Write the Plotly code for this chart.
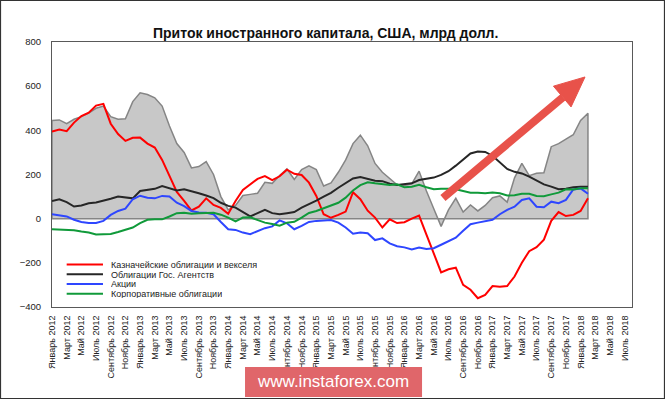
import plotly.graph_objects as go

# ---- data (Jan 2012 .. Feb 2018, bn USD) ----
tick_labels = [
    "Январь 2012", "Март 2012", "Май 2012", "Июль 2012", "Сентябрь 2012", "Ноябрь 2012",
    "Январь 2013", "Март 2013", "Май 2013", "Июль 2013", "Сентябрь 2013", "Ноябрь 2013",
    "Январь 2014", "Март 2014", "Май 2014", "Июль 2014", "Сентябрь 2014", "Ноябрь 2014",
    "Январь 2015", "Март 2015", "Май 2015", "Июль 2015", "Сентябрь 2015", "Ноябрь 2015",
    "Январь 2016", "Март 2016", "Май 2016", "Июль 2016", "Сентябрь 2016", "Ноябрь 2016",
    "Январь 2017", "Март 2017", "Май 2017", "Июль 2017", "Сентябрь 2017", "Ноябрь 2017",
    "Январь 2018", "Март 2018", "Май 2018", "Июль 2018",
]

treasury = [394, 404, 396, 435, 465, 480, 512, 520, 430, 383, 352, 366, 367, 340, 322, 266,
            194, 121, 81, 37, 54, 92, 62, 49, 22, 80, 130, 155, 180, 193, 175, 192,
            222, 203, 198, 163, 103, 20, 4, 17, 32, 120, 88, 36, 5, -40, -3, -20,
            -16, 0, 14, -72, -160, -243, -229, -222, -300, -322, -360, -345, -305, -308,
            -305, -262, -200, -147, -129, -95, -10, 30, 12, 17, 35, 92]

agency = [80, 88, 75, 55, 60, 70, 73, 80, 90, 100, 96, 92, 125, 130, 135, 148,
          138, 128, 133, 125, 115, 105, 93, 72, 58, 50, 30, 10, 25, 40, 25, 20,
          25, 30, 50, 65, 82, 100, 117, 140, 160, 182, 189, 180, 172, 170, 158, 153,
          155, 160, 175, 180, 186, 198, 215, 240, 268, 295, 304, 302, 285, 255,
          225, 212, 205, 190, 172, 155, 145, 133, 135, 142, 145, 145]

stocks = [20, 14, 10, -5, -15, -20, -20, -10, 17, 35, 45, 88, 104, 95, 92, 103,
          100, 72, 57, 35, 28, 27, 20, -15, -48, -51, -63, -70, -55, -43, -35, -8,
          -21, -48, -33, -15, -10, -8, -6, -18, -40, -68, -63, -66, -97, -89, -112, -125,
          -130, -140, -131, -137, -134, -118, -103, -86, -55, -25, -18, -12, -5, 20,
          40, 54, 85, 92, 54, 52, 77, 70, 85, 132, 137, 113]

corporate = [-48, -50, -52, -52, -58, -63, -72, -72, -69, -60, -50, -40, -20, -5, -3, -3,
             10, 25, 27, 22, 25, 27, 27, 18, 5, -12, 5, 6, -7, -18, -24, -32,
             -18, -14, 5, 26, 35, 48, 58, 72, 95, 128, 152, 165, 160, 156, 153, 156,
             142, 145, 153, 142, 133, 135, 136, 133, 124, 117, 117, 115, 118, 115,
             105, 106, 113, 113, 103, 102, 110, 118, 133, 132, 138, 138]

total = [445, 447, 430, 450, 462, 478, 500, 510, 462, 450, 452, 530, 570, 562, 547, 510,
         420, 340, 300, 230, 236, 258, 200, 100, 40, 60, 105, 110, 115, 165, 160, 195,
         225, 178, 222, 239, 222, 148, 162, 210, 266, 340, 378, 330, 250, 210, 183, 153,
         150, 158, 215, 125, 45, -35, 40, 92, 30, 62, 35, 60, 95, 103,
         75, 185, 250, 195, 206, 208, 326, 340, 360, 380, 445, 477]

series_names = ["Казначейские облигации и векселя", "Облигации Гос. Агентств",
                "Акции", "Корпоративные облигации"]
series_colors = ["#FF0000", "#262626", "#2E46FF", "#109A3A"]

n = len(total)
idx = list(range(n))
tick_pos = [2 * k for k in range(len(tick_labels))]

fig = go.Figure()

# grey total area (closed polygon down to zero)
fig.add_trace(go.Scatter(
    x=[0] + idx + [n - 1, 0], y=[0] + total + [0, 0],
    mode="lines", fill="toself", fillcolor="#C8C8C8",
    line=dict(color="#858585", width=1.5), hoverinfo="skip", showlegend=False))

for name, vals, col in zip(series_names, [treasury, agency, stocks, corporate], series_colors):
    fig.add_trace(go.Scatter(x=idx, y=vals, mode="lines", name=name,
                             line=dict(color=col, width=2), showlegend=False))

shapes = []
annotations = []

# title
annotations.append(dict(text="<b>Приток иностранного капитала, США, млрд долл.</b>",
                        xref="paper", yref="paper", x=0.4707, y=1.035,
                        xanchor="center", yanchor="middle", showarrow=False,
                        font=dict(family="Liberation Sans, Arial", size=14, color="#111")))

# manual legend
leg_y = [0.160, 0.1235, 0.0868, 0.050]
for name, col, yy in zip(series_names, series_colors, leg_y):
    shapes.append(dict(type="line", xref="paper", yref="paper", x0=0.0253, x1=0.0879,
                       y0=yy, y1=yy, line=dict(color=col, width=2)))
    annotations.append(dict(text=name, xref="paper", yref="paper", x=0.1005, y=yy,
                            xanchor="left", yanchor="middle", showarrow=False, height=9,
                            borderpad=0,
                            font=dict(family="Liberation Sans, Arial", size=9, color="#222")))

# red arrow (decoration)
arrow_col = "#E8524A"
shapes.append(dict(type="line", xref="x", yref="y", x0=53.25, y0=93.7, x1=69.6, y1=550,
                   line=dict(color=arrow_col, width=8), layer="above"))
shapes.append(dict(type="path", xref="x", yref="y",
                   path="M 72.6,641.6 L 70.7,506 L 68.3,600 Z",
                   fillcolor=arrow_col, line=dict(color=arrow_col, width=1), layer="above"))

# outer frame
shapes.append(dict(type="rect", xref="paper", yref="paper", x0=-0.0888, x1=1.056,
                   y0=-0.3453, y1=1.1566, line=dict(color="#333", width=1.2)))

# watermark
shapes.append(dict(type="rect", xref="paper", yref="paper", x0=0.3328, x1=0.638,
                   y0=-0.3396, y1=-0.2264, fillcolor="#E0666A", line=dict(width=0),
                   layer="above"))
annotations.append(dict(text="www.instaforex.com", xref="paper", yref="paper",
                        x=0.4853, y=-0.283, xanchor="center", yanchor="middle",
                        showarrow=False,
                        font=dict(family="Liberation Sans, Arial", size=17, color="white")))

fig.update_layout(
    width=665, height=399,
    margin=dict(l=52, r=33, t=42, b=92),
    paper_bgcolor="white", plot_bgcolor="white",
    showlegend=False,
    shapes=shapes, annotations=annotations,
    xaxis=dict(range=[0, 79], tickmode="array", tickvals=tick_pos, ticktext=tick_labels,
               tickangle=-90, showgrid=False, zeroline=False, showline=True, mirror=True,
               linecolor="#595959", linewidth=1, ticks="", ticklabelstandoff=4,
               tickfont=dict(family="Liberation Sans, Arial", size=9, color="#222")),
    yaxis=dict(range=[-400, 800], dtick=200, showgrid=False, zeroline=False,
               showline=True, mirror=True, linecolor="#595959", linewidth=1, ticks="",
               ticklabelstandoff=8,
               tickfont=dict(family="Liberation Sans, Arial", size=9.5, color="#222")),
)

fig.write_html("out.html", config={"displayModeBar": False},
               post_script="document.body.style.margin='0';document.body.style.padding='0';")
